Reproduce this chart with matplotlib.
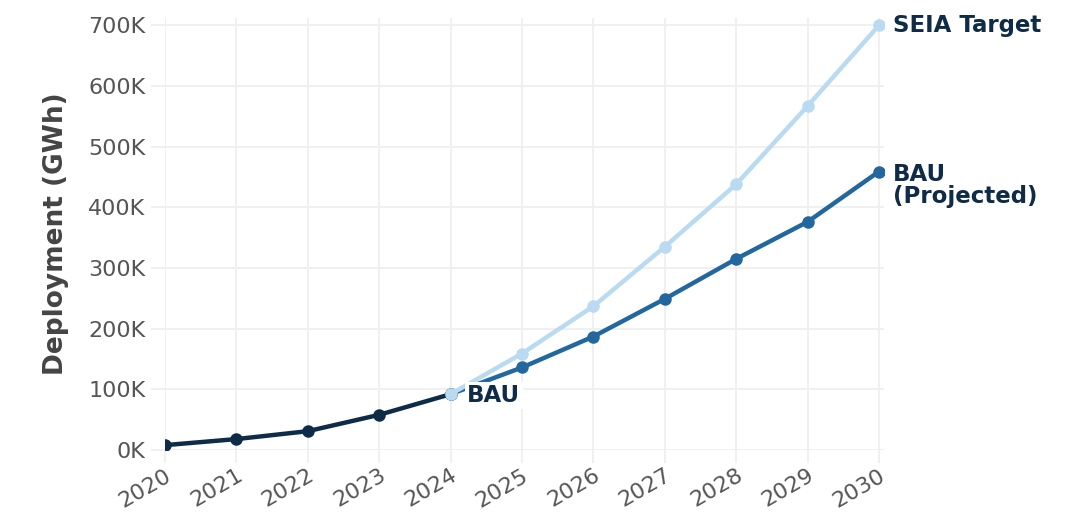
import matplotlib
matplotlib.use("Agg")
import matplotlib.pyplot as plt
from matplotlib.ticker import FuncFormatter

years_hist = [2020, 2021, 2022, 2023, 2024]
bau_hist = [8000, 18000, 31000, 58000, 92000]
years_proj = [2024, 2025, 2026, 2027, 2028, 2029, 2030]
bau_proj = [92000, 136000, 187000, 249000, 315000, 376000, 459000]
seia_target = [92000, 159000, 237000, 335000, 438000, 567000, 700000]
x_ticks = list(range(2020, 2031))
y_ticks = [0, 100000, 200000, 300000, 400000, 500000, 600000, 700000]

DARK = "#0e2b48"
MID = "#22679e"
LIGHT = "#b9daf0"
GRID = "#efefef"
TXT = "#555555"

plt.rcParams['font.family'] = ['DejaVu Sans']

fig = plt.figure(figsize=(10.79, 5.17), dpi=100)
W, H = 1079, 517
ax = fig.add_axes([165 / W, 1 - 450 / H, (884 - 165) / W, (450 - 18) / H])

ax.plot(years_hist, bau_hist, color=DARK, lw=3.2, marker='o', ms=8, zorder=3)
ax.plot(years_proj, bau_proj, color=MID, lw=3.2, marker='o', ms=8, zorder=4)
ax.plot(years_proj, seia_target, color=LIGHT, lw=3.2, marker='o', ms=8, zorder=5)

ax.set_xlim(2020, 2030.07)
ax.set_ylim(0, 712000)
ax.set_xticks(x_ticks)
ax.set_yticks(y_ticks)
ax.yaxis.set_major_formatter(FuncFormatter(lambda v, p: f"{int(round(v / 1000))}K"))
ax.grid(True, color=GRID, lw=1.3, zorder=0)
ax.set_axisbelow(True)
for s in ax.spines.values():
    s.set_visible(False)
ax.tick_params(axis='y', length=10, width=1.3, color=GRID, labelsize=16,
               labelcolor=TXT, pad=4)
ax.tick_params(axis='x', length=9, width=1.3, color=GRID, labelsize=16,
               labelcolor=TXT, pad=2)
for lbl in ax.get_xticklabels():
    lbl.set_rotation(30)
    lbl.set_ha('right')
    lbl.set_rotation_mode('anchor')

ax.set_ylabel("Deployment (GWh)", fontsize=19, fontweight='bold', color="#444444",
              labelpad=14)

ax.annotate("SEIA Target", xy=(years_proj[-1], seia_target[-1]), xytext=(10, 0),
            textcoords='offset points', fontsize=16.5, fontweight='bold', color=DARK,
            va='center', ha='left', annotation_clip=False)
ax.annotate("BAU\n(Projected)", xy=(years_proj[-1], bau_proj[-1]), xytext=(10, -10),
            textcoords='offset points', fontsize=16.5, fontweight='bold', color=DARK,
            va='center', ha='left', linespacing=0.95, annotation_clip=False)
ax.annotate("BAU", xy=(years_hist[-1], bau_hist[-1]), xytext=(12, -1),
            textcoords='offset points', fontsize=16.5, fontweight='bold', color=DARK,
            va='center', ha='left', zorder=6,
            bbox=dict(boxstyle='square,pad=0.1', fc='white', ec='none'))

fig.savefig("out.png", dpi=100)
